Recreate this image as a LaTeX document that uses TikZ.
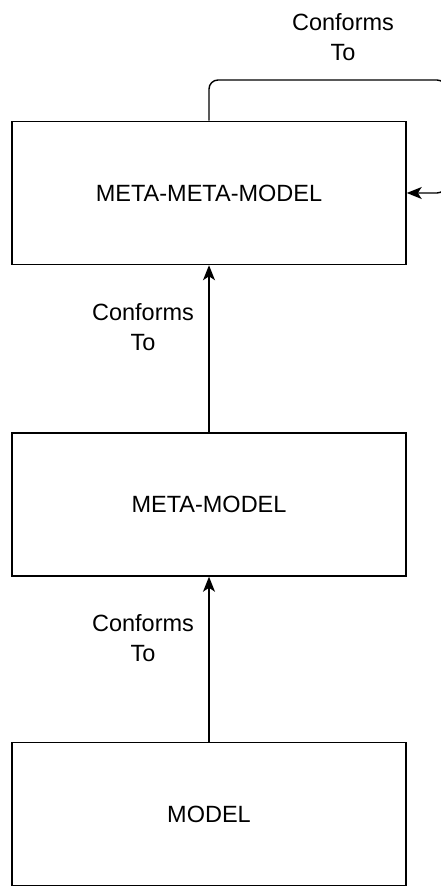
\documentclass[tikz,border=0pt]{standalone}
\usepackage{fontspec}
\setmainfont{Liberation Sans}
\usetikzlibrary{arrows.meta}

\begin{document}
\begin{tikzpicture}[x=1pt, y=1pt,
    level/.style={draw, line width=1.5pt, minimum width=394pt, minimum height=143pt,
      inner sep=0pt, font=\fontsize{23.5}{29}\selectfont},
    conn/.style={line width=1.4pt, -{Stealth[length=15pt, width=12pt, inset=4pt]}},
    lbl/.style={align=center, inner sep=0pt, font=\fontsize{23.5}{29.5}\selectfont}]
      \useasboundingbox (0, 0) rectangle (440, 887);

      \node[level] (mmm) at (209, 694) {META-META-MODEL};
      \node[level] (mm) at (209, 382.5) {META-MODEL};
      \node[level] (m) at (209, 73) {MODEL};

      \node[lbl] (c0) at (343, 850) {Conforms\\To};
      \node[lbl] (c1) at (143, 560) {Conforms\\To};
      \node[lbl] (c2) at (143, 249) {Conforms\\To};

      \coordinate (loop) at (446, 807);

      \draw[conn] (m) -- (mm);
      \draw[conn] (mm) -- (mmm);
      \draw[conn, rounded corners=9pt] (mmm.north) |- (loop) |- (mmm.east);
    \end{tikzpicture}
\end{document}
